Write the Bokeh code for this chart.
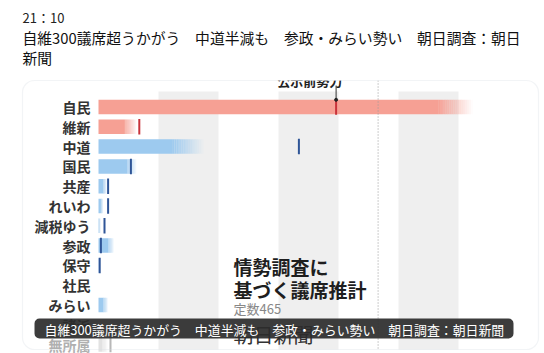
import numpy as np
from bokeh.plotting import figure
from bokeh.models import Range1d, BoxAnnotation, Label
from bokeh.core.properties import value
from bokeh.embed import file_html
from bokeh.resources import INLINE

# ---------------- data ----------------
parties = ["自民", "維新", "中道", "国民", "共産", "れいわ", "減税ゆう",
           "参政", "保守", "社民", "みらい", "諸派", "無所属"]
# estimated seat range (solid part ends at low, faded part ends at high)
seat_low = [283, 22, 62, 24, 4, 2, 0, 8, 0, 0, 4, 0, 3]
seat_high = [312, 32, 88, 32, 7, 4, 2, 13, 1, 0, 8, 0, 8]
# seats before the election (公示前勢力); nan = none shown
seats_before = [198, 34, 167, 27, 8, 8, 5, 2, 1, np.nan, np.nan, np.nan, 10]
bloc = ["ruling", "ruling", "other", "other", "other", "other", "other",
        "other", "other", "other", "other", "other", "indep"]

total_seats = 465
majority = 233
band_ranges = [(50, 100), (150, 200), (250, 300)]

time_text = "21：10"
title_line1 = "自維300議席超うかがう　中道半減も　参政・みらい勢い　朝日調査：朝日"
title_line2 = "新聞"
caption = "自維300議席超うかがう　中道半減も　参政・みらい勢い　朝日調査：朝日新聞"
chart_title = ["情勢調査に", "基づく議席推計"]
seats_note = "定数465"
source_text = "朝日新聞"
before_label = "公示前勢力"

# ---------------- style ----------------
FONT = "Noto Sans CJK JP"
W, H = 544, 353
X0, PX_PER_SEAT = 98, 1.2
bar_col = {"ruling": "#f6a094", "other": "#9dcaef", "indep": "#e2e2e2"}
mark_col = {"ruling": "#c8323a", "other": "#2f5597", "indep": "#b8b8b8"}
label_col = {"ruling": "#333333", "other": "#333333", "indep": "#b0b0b0"}

p = figure(width=W, height=H, output_backend="svg", toolbar_location=None,
           x_range=Range1d(-X0 / PX_PER_SEAT, (W - X0) / PX_PER_SEAT),
           y_range=Range1d(H, 0), min_border=0)
p.extra_x_ranges = {"px": Range1d(0, W)}
p.xaxis.visible = False
p.yaxis.visible = False
p.grid.visible = False
p.outline_line_color = None
p.background_fill_color = "white"
p.border_fill_color = "white"

row_y = [106.5 + 19.8 * i for i in range(len(parties))]
bar_h = 14.5
card_top, card_bot = 80, 349

# gray bands
p.quad(left=[b[0] for b in band_ranges], right=[b[1] for b in band_ranges],
       top=91, bottom=card_bot, fill_color="#efefef", line_color=None)

# solid parts
p.hbar(y=row_y, left=0, right=seat_low, height=bar_h,
       fill_color=[bar_col[b] for b in bloc], line_color=None)
# faded parts
n = 18
for i, (lo, hi) in enumerate(zip(seat_low, seat_high)):
    if hi <= lo:
        continue
    edges = np.linspace(lo, hi, n + 1)
    alphas = 1 - (np.arange(n) + 0.5) / n
    p.hbar(y=row_y[i], left=edges[:-1], right=edges[1:], height=bar_h,
           fill_color=bar_col[bloc[i]], fill_alpha=alphas, line_color=None)

# majority dotted line
p.segment(x0=majority, x1=majority, y0=card_top, y1=card_bot,
          line_color="#9a9a9a", line_dash="1 2", line_width=1)

# pre-election markers
idx = [i for i, v in enumerate(seats_before) if not np.isnan(v)]
p.rect(x=[seats_before[i] for i in idx], y=[row_y[i] for i in idx],
       width=2, width_units="screen", height=bar_h + 1,
       fill_color=[mark_col[bloc[i]] for i in idx], line_color=None)

# pointer for 公示前勢力
p.segment(x0=seats_before[0], x1=seats_before[0], y0=card_top + 5, y1=row_y[0] - bar_h / 2,
          line_color="#333333", line_width=1)
p.scatter(x=[seats_before[0]], y=[row_y[0] - bar_h / 2], size=3, color="#222222")
p.text(x=[seats_before[0] - 22], y=[card_top], text=[before_label],
       text_font=value(FONT), text_font_size="13px", text_font_style="bold",
       text_color="#222222", text_align="center", text_baseline="alphabetic")
# clip above card
p.quad(left=0, right=W, top=0, bottom=card_top, fill_color="white",
       line_color=None, x_range_name="px")

# party labels
p.text(x=90, y=row_y, text=parties, x_range_name="px",
       text_font=value(FONT), text_font_size="14px", text_font_style="bold",
       text_color=[label_col[b] for b in bloc], text_align="right",
       text_baseline="middle")

# chart title block
p.text(x=233, y=[266, 289], text=chart_title, x_range_name="px",
       text_font=value(FONT), text_font_size="19px", text_font_style="bold",
       text_color="#1e1e1e", text_align="left", text_baseline="middle")
p.text(x=233, y=[308], text=[seats_note], x_range_name="px",
       text_font=value(FONT), text_font_size="13px",
       text_color="#888888", text_align="left", text_baseline="middle")
p.text(x=233, y=[334], text=[source_text], x_range_name="px",
       text_font=value(FONT), text_font_size="20px",
       text_color="#333333", text_align="left", text_baseline="middle")

# page header
p.text(x=22, y=[17], text=[time_text], x_range_name="px",
       text_font=value(FONT), text_font_size="13px",
       text_color="#222222", text_align="left", text_baseline="middle")
p.text(x=22, y=[37, 57], text=[title_line1, title_line2], x_range_name="px",
       text_font=value(FONT), text_font_size="14.8px",
       text_color="#111111", text_align="left", text_baseline="middle")

# card border
p.add_layout(BoxAnnotation(left=22, right=538, top=card_top, bottom=card_bot,
                           x_range_name="px", fill_alpha=0,
                           line_color="#d3dbe2", line_width=1.2, border_radius=12))
# caption overlay
p.add_layout(BoxAnnotation(left=34, right=513, top=318, bottom=338,
                           x_range_name="px", fill_color="#2b2b2b", fill_alpha=0.92,
                           line_color=None, border_radius=5))
p.add_layout(Label(x=44, y=328.5, text=caption, x_range_name="px",
                   text_font=FONT, text_font_size="12.9px", text_color="white",
                   text_align="left", text_baseline="middle"))

open("out.html", "w").write(file_html(p, INLINE))
